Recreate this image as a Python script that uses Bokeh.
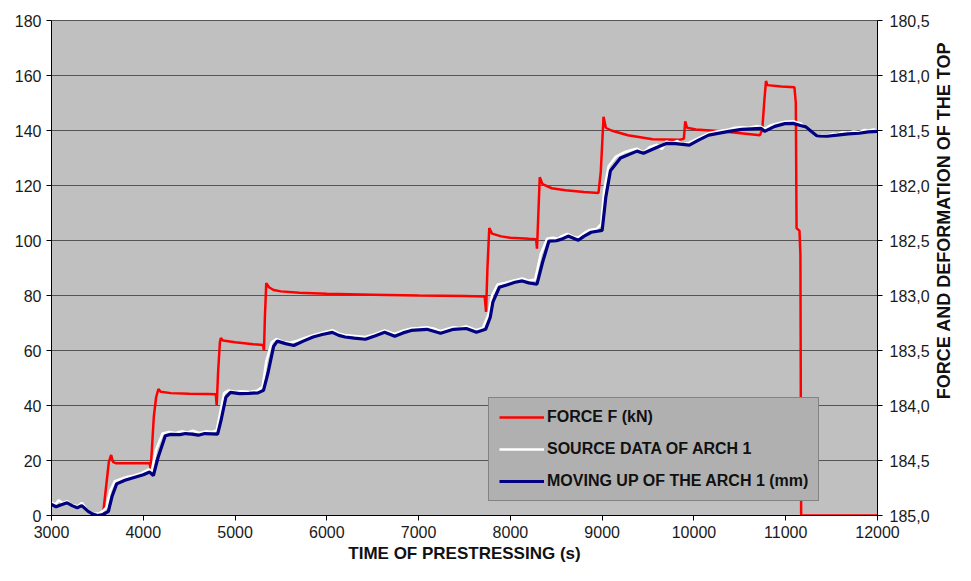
import math
from bokeh.plotting import figure
from bokeh.layouts import row
from bokeh.models import (Range1d, LinearAxis, FixedTicker, CustomJSTickFormatter,
                          Legend, LegendItem, Label)
from bokeh.embed import file_html
from bokeh.resources import INLINE

# ---- data ----
x_ticks = [3000, 4000, 5000, 6000, 7000, 8000, 9000, 10000, 11000, 12000]
y_ticks = [0, 20, 40, 60, 80, 100, 120, 140, 160, 180]
right_ticks = [180.5, 181.0, 181.5, 182.0, 182.5, 183.0, 183.5, 184.0, 184.5, 185.0]

force_t = [3560, 3600, 3625, 3650, 3670, 3700, 3800, 3900, 4000, 4070,
           4080, 4090, 4115, 4140, 4165, 4190, 4300, 4500, 4700, 4790,
           4800, 4815, 4835, 4845, 4870, 5000, 5200, 5305, 5315, 5325,
           5340, 5370, 5420, 5500, 5700, 6000, 6500, 7000, 7500, 7720,
           7735, 7750, 7770, 7800, 7900, 8000, 8200, 8280, 8290, 8305,
           8320, 8350, 8450, 8600, 8800, 8960, 8985, 9015, 9040, 9100,
           9280, 9550, 9840, 9890, 9905, 9925, 10020, 10300, 10720, 10745,
           10765, 10785, 10800, 10950, 11095, 11110, 11118, 11150, 11160, 11168,
           12000]
force_kn = [0, 12, 19.5, 22, 19.5, 19, 19, 19, 19, 19,
            17, 22, 36, 43, 46, 45, 44.5, 44.3, 44.2, 44.1,
            40, 52, 63, 64.5, 63.6, 63, 62.3, 62, 60, 72,
            84.5, 83, 82, 81.5, 81, 80.6, 80.3, 80, 79.8, 79.6,
            74, 90, 104.5, 102.5, 101.5, 101, 100.6, 100.5, 97, 110,
            123, 120.5, 119, 118.3, 117.6, 117.3, 125, 145, 141, 140,
            138.3, 136.8, 136.6, 137, 143.3, 141, 140.4, 139.7, 138.3, 140.5,
            150, 158, 156.5, 156, 155.7, 150, 104.5, 103.5, 95, 0,
            0]

source_t = [3000, 3040, 3080, 3120, 3170, 3210, 3250, 3290, 3330, 3380,
            3420, 3470, 3520, 3560, 3600, 3640, 3690, 3750, 3820, 3900,
            3980, 4060, 4090, 4140, 4210, 4280, 4350, 4420, 4480, 4540,
            4610, 4680, 4750, 4800, 4830, 4880, 4930, 5000, 5080, 5160,
            5240, 5300, 5340, 5400, 5450, 5520, 5600, 5680, 5760, 5850,
            5950, 6060, 6130, 6200, 6300, 6420, 6530, 6630, 6740, 6830,
            6920, 7000, 7090, 7160, 7240, 7310, 7380, 7450, 7520, 7580,
            7630, 7700, 7760, 7800, 7860, 7940, 8050, 8130, 8200, 8270,
            8330, 8400, 8460, 8520, 8560, 8620, 8680, 8740, 8800, 8860,
            8940, 8990, 9020, 9070, 9150, 9250, 9330, 9380, 9450, 9520,
            9600, 9650, 9700, 9760, 9820, 9880, 9950, 10050, 10160, 10250,
            10380, 10450, 10520, 10600, 10680, 10730, 10770, 10830, 10880, 10990,
            11080, 11160, 11220, 11280, 11340, 11400, 11450, 11520, 11560, 11620,
            11680, 11740, 11800, 11860, 11900, 11960, 12000]
source_v = [4.8, 4.0, 5.6, 4.5, 5.2, 4.0, 3.6, 3.4, 4.6, 2.4,
            1.2, 0.6, 0.8, 1.6, 3.0, 9.0, 12.5, 13.2, 14.0, 14.6,
            15.4, 16.8, 16.0, 24.0, 29.8, 30.4, 30.0, 30.6, 30.2, 30.8,
            30.0, 30.6, 30.4, 31.0, 36.0, 44.5, 45.5, 45.0, 45.2, 44.9,
            45.4, 46.8, 56.0, 63.0, 64.2, 63.2, 62.8, 63.6, 64.6, 65.6,
            66.5, 67.4, 66.2, 65.6, 65.3, 64.9, 66.0, 67.3, 66.0, 67.2,
            68.0, 68.2, 68.5, 68.0, 67.0, 67.8, 68.5, 68.2, 68.8, 68.0,
            67.4, 68.2, 73.0, 80.0, 84.0, 84.6, 85.6, 86.2, 85.4, 85.8,
            95.0, 100.6, 101.0, 100.6, 101.6, 102.4, 101.4, 101.0, 102.6, 103.8,
            104.2, 106.0, 118.0, 127.0, 130.5, 132.2, 133.0, 133.4, 132.0, 134.0,
            134.8, 133.2, 136.0, 135.4, 136.2, 135.0, 135.6, 137.2, 139.0, 139.6,
            140.4, 141.0, 141.2, 141.0, 141.6, 141.4, 140.6, 141.8, 142.3, 143.2,
            143.4, 142.6, 141.0, 139.6, 137.6, 138.4, 138.2, 138.8, 138.6, 139.4,
            139.2, 139.6, 139.4, 140.2, 140.0, 140.4, 139.8]

moving_t = [3000, 3050, 3100, 3170, 3230, 3280, 3330, 3400, 3450, 3500,
            3560, 3620, 3660, 3710, 3800, 3900, 4000, 4070, 4110, 4160,
            4240, 4300, 4400, 4460, 4530, 4600, 4670, 4750, 4810, 4850,
            4900, 4950, 5050, 5150, 5250, 5310, 5360, 5420, 5460, 5550,
            5640, 5750, 5850, 5950, 6060, 6130, 6200, 6300, 6420, 6530,
            6630, 6740, 6830, 6920, 7090, 7240, 7380, 7520, 7630, 7730,
            7780, 7810, 7880, 7960, 8050, 8130, 8200, 8290, 8350, 8420,
            8500, 8560, 8630, 8740, 8800, 8880, 9000, 9040, 9090, 9200,
            9380, 9450, 9600, 9700, 9800, 9950, 10050, 10160, 10380, 10520,
            10730, 10770, 10880, 10990, 11080, 11160, 11220, 11340, 11450, 11560,
            11680, 11800, 11900, 12000]
moving_v = [4, 3.2, 3.8, 4.6, 3.5, 2.8, 3.6, 1.5, 0.5, 0,
            0.3, 1.5, 7, 11.5, 12.8, 13.8, 14.8, 15.8, 14.5, 21,
            29, 29.5, 29.4, 29.8, 29.6, 29.2, 29.8, 29.7, 29.6, 35,
            43, 44.8, 44.3, 44.4, 44.6, 45.5, 52, 61.5, 63.4, 62.5,
            61.8, 63.5, 64.9, 65.8, 66.6, 65.5, 64.9, 64.5, 64.1, 65.4,
            66.6, 65.2, 66.4, 67.3, 67.7, 66.3, 67.7, 68, 66.6, 67.7,
            72, 77.7, 83, 83.8, 84.8, 85.3, 84.6, 84.1, 92, 99.8,
            99.9, 100.5, 101.6, 100.1, 101.5, 103, 103.7, 115.8, 125.4, 130,
            132.5, 131.7, 133.9, 135.3, 135.2, 134.7, 136.5, 138.3, 139.7, 140.4,
            140.8, 139.7, 141.5, 142.5, 142.6, 141.8, 141.3, 138, 137.9, 138.3,
            138.8, 139, 139.5, 139.7]

FONT = "Liberation Sans"
W_MAIN, W_SIDE, H = 932, 23, 565

p = figure(width=W_MAIN, height=H, output_backend="svg", toolbar_location=None,
           x_range=Range1d(3000, 12000), y_range=Range1d(0, 180),
           min_border_left=51, min_border_top=20, min_border_right=48, min_border_bottom=50)
p.background_fill_color = "#c0c0c0"
p.border_fill_color = "white"
p.outline_line_color = "#555555"
p.extra_y_ranges = {"right": Range1d(start=185.0, end=180.5)}

# grid
p.xgrid.grid_line_color = None
p.ygrid.grid_line_color = "#555555"
p.ygrid.grid_line_width = 1

# series
r_force = p.line(force_t, force_kn, line_color="#ff0000", line_width=2.5)
r_src = p.line(source_t, source_v, line_color="white", line_width=2.5)
r_mov = p.line(moving_t, moving_v, line_color="#000080", line_width=3.2)

# axes
xa = p.xaxis[0]
xa.ticker = FixedTicker(ticks=x_ticks)
xa.axis_label = "TIME OF PRESTRESSING (s)"
ya = p.yaxis[0]
ya.ticker = FixedTicker(ticks=y_ticks)

ra = LinearAxis(y_range_name="right", ticker=FixedTicker(ticks=right_ticks),
                formatter=CustomJSTickFormatter(code="return tick.toFixed(1).replace('.', ',');"))
p.add_layout(ra, "right")

for ax in (xa, ya, ra):
    ax.axis_line_color = "black"
    ax.major_tick_line_color = "black"
    ax.minor_tick_line_color = None
    ax.major_tick_in = 0
    ax.major_tick_out = 5
    ax.major_label_text_font = FONT
    ax.major_label_text_font_size = "16px"
    ax.major_label_text_color = "#1a1a1a"
    ax.axis_label_text_font = FONT
    ax.axis_label_text_font_style = "bold"
    ax.axis_label_text_color = "#111111"

xa.major_label_standoff = 5
xa.axis_label_standoff = 3
xa.axis_label_text_font_size = "17px"
ya.major_label_standoff = 5
ra.major_label_standoff = 7

legend = Legend(items=[
    LegendItem(label="FORCE F (kN)", renderers=[r_force]),
    LegendItem(label="SOURCE DATA OF ARCH 1", renderers=[r_src]),
    LegendItem(label="MOVING UP OF THE ARCH 1 (mm)", renderers=[r_mov]),
], location=(437, 14))
legend.background_fill_color = "#b0b0b0"
legend.background_fill_alpha = 1.0
legend.border_line_color = "#555555"
legend.border_line_width = 1
legend.label_text_font = FONT
legend.label_text_font_style = "bold"
legend.label_text_font_size = "16px"
legend.label_text_color = "#111111"
legend.glyph_width = 45
legend.label_standoff = 3
legend.label_height = 16
legend.glyph_height = 16
legend.spacing = 14
legend.padding = 10
legend.margin = 0
p.add_layout(legend, "center")

# narrow side panel carrying the right-hand axis title (reads bottom to top)
side = figure(width=W_SIDE, height=H, output_backend="svg", toolbar_location=None,
              x_range=Range1d(0, 1), y_range=Range1d(0, 1),
              x_axis_location=None, y_axis_location=None,
              min_border_left=0, min_border_right=0, min_border_top=20, min_border_bottom=50)
side.background_fill_color = "white"
side.border_fill_color = "white"
side.outline_line_color = None
side.grid.grid_line_color = None
side.add_layout(Label(x=W_SIDE / 2, y=295, x_units="screen", y_units="screen",
                      text="FORCE AND DEFORMATION OF THE TOP", angle=math.pi / 2,
                      text_align="center", text_baseline="middle",
                      text_font=FONT, text_font_style="bold", text_font_size="18px",
                      text_color="#111111"))

layout = row(p, side, spacing=0)
open("out.html", "w").write(file_html(layout, INLINE))
